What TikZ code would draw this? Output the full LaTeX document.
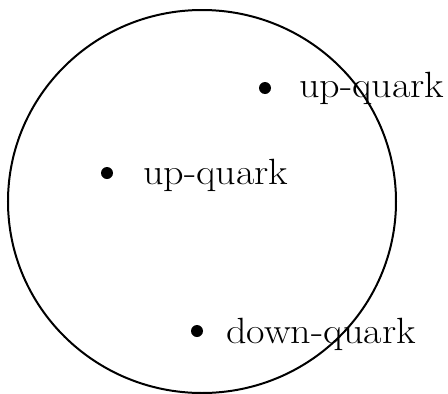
\documentclass[tikz,border=0pt]{standalone}
\newcommand{\qwide}[1]{\scalebox{1.1}[1]{#1}}
\begin{document}
\begin{tikzpicture}[x=1pt,y=-1pt,
  quarkdot/.style={circle,fill=black,inner sep=0pt,minimum size=12pt},
  quarklabel/.style={anchor=base west,inner sep=0pt,font=\fontsize{36.5}{40}\selectfont}]
\useasboundingbox (0,0) rectangle (448,394);
\draw[line width=2pt] (202,201.5) ellipse [x radius=194, y radius=191.5];
\node[quarkdot] (d1) at (265,88) {};
\node[quarkdot] (d2) at (107,173) {};
\node[quarkdot] (d3) at (197,331) {};
\node[quarklabel] (l1) at (299,97) {\qwide{up-quark}};
\node[quarklabel] (l2) at (143,184) {\qwide{up-quark}};
\node[quarklabel] (l3) at (226,343) {\qwide{down-quark}};
\end{tikzpicture}
\end{document}
